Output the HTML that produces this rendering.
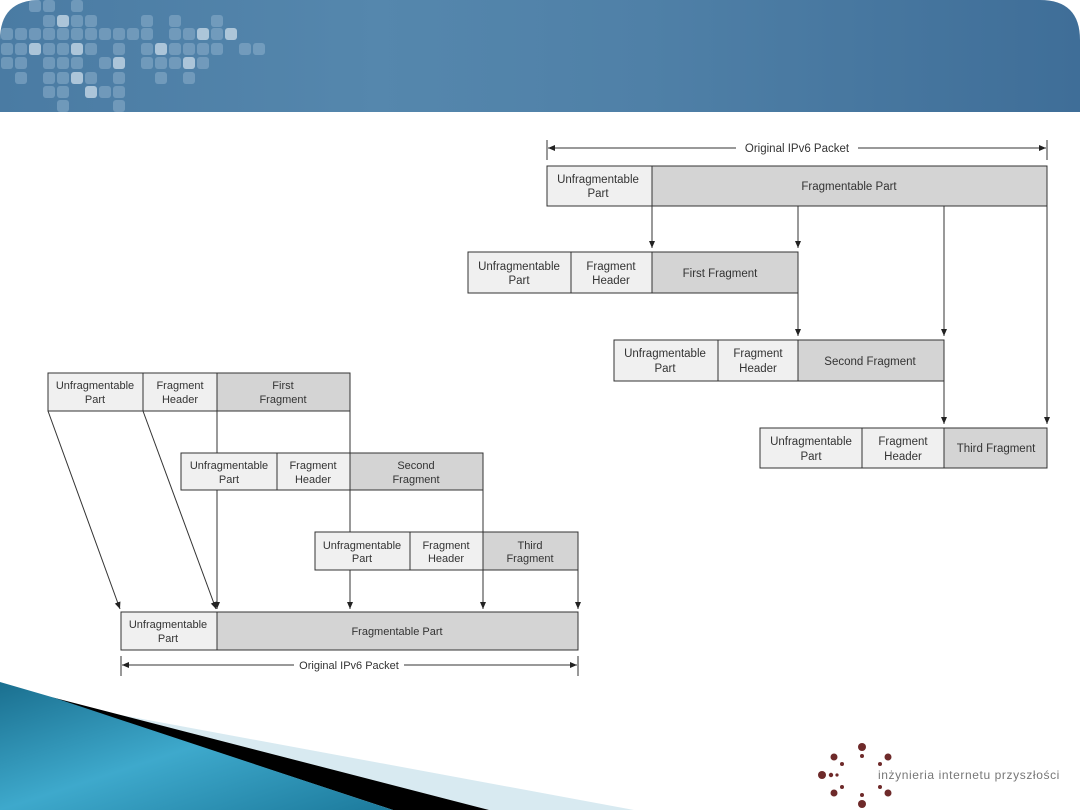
<!DOCTYPE html>
<html><head><meta charset="utf-8"><style>
html,body{margin:0;padding:0;background:#fff;}
body{width:1080px;height:810px;position:relative;overflow:hidden;font-family:"Liberation Sans",sans-serif;}
</style></head><body>
<svg width="1080" height="810" viewBox="0 0 1080 810" xmlns="http://www.w3.org/2000/svg" style="position:absolute;left:0;top:0">
<defs>
<linearGradient id="hg" x1="0" x2="1" y1="0" y2="0">
<stop offset="0" stop-color="#4a7ba3"/><stop offset="0.35" stop-color="#5587ad"/><stop offset="0.6" stop-color="#4f80a7"/><stop offset="1" stop-color="#3f6e98"/>
</linearGradient>
<linearGradient id="tg" x1="0" x2="1" y1="0" y2="1">
<stop offset="0" stop-color="#1a6f8f"/><stop offset="0.5" stop-color="#3ea9cc"/><stop offset="1" stop-color="#1c7a9c"/>
</linearGradient>
<marker id="ar" markerWidth="8" markerHeight="8" refX="7" refY="4" orient="auto" markerUnits="userSpaceOnUse"><path d="M0,1 L7,4 L0,7 z" fill="#222"/></marker>
<marker id="al" markerWidth="8" markerHeight="8" refX="1" refY="4" orient="auto" markerUnits="userSpaceOnUse"><path d="M8,1 L1,4 L8,7 z" fill="#222"/></marker>
</defs>
<path d="M40,0 H1040 Q1080,0 1080,40 V112 H0 V40 Q0,0 40,0 z" fill="url(#hg)"/>
<g fill="#8db0cc" opacity="0.55">
<rect x="29" y="0" width="12" height="12" rx="3"/><rect x="43" y="0" width="12" height="12" rx="3"/><rect x="71" y="0" width="12" height="12" rx="3"/>
<rect x="43" y="15" width="12" height="12" rx="3"/><rect x="71" y="15" width="12" height="12" rx="3"/><rect x="85" y="15" width="12" height="12" rx="3"/><rect x="141" y="15" width="12" height="12" rx="3"/><rect x="169" y="15" width="12" height="12" rx="3"/><rect x="211" y="15" width="12" height="12" rx="3"/>
<rect x="1" y="28" width="12" height="12" rx="3"/><rect x="15" y="28" width="12" height="12" rx="3"/><rect x="29" y="28" width="12" height="12" rx="3"/><rect x="43" y="28" width="12" height="12" rx="3"/><rect x="57" y="28" width="12" height="12" rx="3"/><rect x="71" y="28" width="12" height="12" rx="3"/><rect x="85" y="28" width="12" height="12" rx="3"/><rect x="99" y="28" width="12" height="12" rx="3"/><rect x="113" y="28" width="12" height="12" rx="3"/><rect x="127" y="28" width="12" height="12" rx="3"/><rect x="141" y="28" width="12" height="12" rx="3"/><rect x="169" y="28" width="12" height="12" rx="3"/><rect x="183" y="28" width="12" height="12" rx="3"/><rect x="211" y="28" width="12" height="12" rx="3"/>
<rect x="1" y="43" width="12" height="12" rx="3"/><rect x="15" y="43" width="12" height="12" rx="3"/><rect x="43" y="43" width="12" height="12" rx="3"/><rect x="57" y="43" width="12" height="12" rx="3"/><rect x="85" y="43" width="12" height="12" rx="3"/><rect x="113" y="43" width="12" height="12" rx="3"/><rect x="141" y="43" width="12" height="12" rx="3"/><rect x="169" y="43" width="12" height="12" rx="3"/><rect x="183" y="43" width="12" height="12" rx="3"/><rect x="197" y="43" width="12" height="12" rx="3"/><rect x="211" y="43" width="12" height="12" rx="3"/><rect x="239" y="43" width="12" height="12" rx="3"/><rect x="253" y="43" width="12" height="12" rx="3"/>
<rect x="1" y="57" width="12" height="12" rx="3"/><rect x="15" y="57" width="12" height="12" rx="3"/><rect x="43" y="57" width="12" height="12" rx="3"/><rect x="57" y="57" width="12" height="12" rx="3"/><rect x="71" y="57" width="12" height="12" rx="3"/><rect x="99" y="57" width="12" height="12" rx="3"/><rect x="141" y="57" width="12" height="12" rx="3"/><rect x="155" y="57" width="12" height="12" rx="3"/><rect x="169" y="57" width="12" height="12" rx="3"/><rect x="197" y="57" width="12" height="12" rx="3"/>
<rect x="15" y="72" width="12" height="12" rx="3"/><rect x="43" y="72" width="12" height="12" rx="3"/><rect x="57" y="72" width="12" height="12" rx="3"/><rect x="85" y="72" width="12" height="12" rx="3"/><rect x="113" y="72" width="12" height="12" rx="3"/><rect x="155" y="72" width="12" height="12" rx="3"/><rect x="183" y="72" width="12" height="12" rx="3"/>
<rect x="43" y="86" width="12" height="12" rx="3"/><rect x="57" y="86" width="12" height="12" rx="3"/><rect x="99" y="86" width="12" height="12" rx="3"/><rect x="113" y="86" width="12" height="12" rx="3"/>
<rect x="57" y="100" width="12" height="12" rx="3"/><rect x="113" y="100" width="12" height="12" rx="3"/>
</g>
<g fill="#c4d7e6" opacity="0.8">
<rect x="57" y="15" width="12" height="12" rx="3"/><rect x="197" y="28" width="12" height="12" rx="3"/><rect x="225" y="28" width="12" height="12" rx="3"/>
<rect x="29" y="43" width="12" height="12" rx="3"/><rect x="71" y="43" width="12" height="12" rx="3"/><rect x="155" y="43" width="12" height="12" rx="3"/>
<rect x="113" y="57" width="12" height="12" rx="3"/><rect x="183" y="57" width="12" height="12" rx="3"/>
<rect x="71" y="72" width="12" height="12" rx="3"/><rect x="85" y="86" width="12" height="12" rx="3"/>
</g>

<!-- bottom decoration -->
<polygon points="83,708 634,810 489,810 70,703" fill="#d8eaf1"/>
<polygon points="55,698 489,810 393,810 50,697" fill="#000"/>
<polygon points="0,682 55,698 393,810 0,810" fill="url(#tg)"/>

<!-- logo -->
<g fill="#6e2a2a">
<circle cx="862" cy="747" r="4"/><circle cx="862" cy="804" r="4"/><circle cx="822" cy="775" r="4"/>
<circle cx="834" cy="757" r="3.5"/><circle cx="888" cy="757" r="3.5"/><circle cx="834" cy="793" r="3.5"/><circle cx="888" cy="793" r="3.5"/>
<circle cx="831" cy="775" r="2.2"/><circle cx="837" cy="775" r="1.6"/><circle cx="862" cy="756" r="2"/><circle cx="862" cy="795" r="2"/>
<circle cx="842" cy="764" r="2"/><circle cx="880" cy="764" r="2"/><circle cx="842" cy="787" r="2"/><circle cx="880" cy="787" r="2"/>
</g>
<text x="878" y="779" font-size="12" fill="#777" letter-spacing="0.6" font-family="Liberation Sans, sans-serif">inżynieria internetu przyszłości</text>

<g stroke="#333" stroke-width="1" font-family="Liberation Sans, sans-serif" font-size="11.5" fill="#333" text-anchor="middle">
<line x1="547" y1="140" x2="547" y2="160"/><line x1="1047" y1="140" x2="1047" y2="160"/>
<line x1="548" y1="148" x2="736" y2="148" marker-start="url(#al)"/>
<line x1="858" y1="148" x2="1046" y2="148" marker-end="url(#ar)"/>
<text x="797" y="152" stroke="none">Original IPv6 Packet</text>
<rect x="547" y="166" width="105" height="40" fill="#f0f0f0"/>
<rect x="652" y="166" width="395" height="40" fill="#d4d4d4"/>
<text x="598" y="183" stroke="none">Unfragmentable</text><text x="598" y="197" stroke="none">Part</text>
<text x="849" y="190" stroke="none">Fragmentable Part</text>
<line x1="652" y1="206" x2="652" y2="248" marker-end="url(#ar)"/>
<line x1="798" y1="206" x2="798" y2="248" marker-end="url(#ar)"/>
<line x1="944" y1="206" x2="944" y2="336" marker-end="url(#ar)"/>
<line x1="1047" y1="206" x2="1047" y2="424" marker-end="url(#ar)"/>
<rect x="468" y="252" width="103" height="41" fill="#f0f0f0"/>
<rect x="571" y="252" width="81" height="41" fill="#f0f0f0"/>
<rect x="652" y="252" width="146" height="41" fill="#d4d4d4"/>
<text x="519" y="270" stroke="none">Unfragmentable</text><text x="519" y="284" stroke="none">Part</text>
<text x="611" y="270" stroke="none">Fragment</text><text x="611" y="284" stroke="none">Header</text>
<text x="720" y="277" stroke="none">First Fragment</text>
<line x1="798" y1="293" x2="798" y2="336" marker-end="url(#ar)"/>
<rect x="614" y="340" width="104" height="41" fill="#f0f0f0"/>
<rect x="718" y="340" width="80" height="41" fill="#f0f0f0"/>
<rect x="798" y="340" width="146" height="41" fill="#d4d4d4"/>
<text x="665" y="357" stroke="none">Unfragmentable</text><text x="665" y="372" stroke="none">Part</text>
<text x="758" y="357" stroke="none">Fragment</text><text x="758" y="372" stroke="none">Header</text>
<text x="870" y="365" stroke="none">Second Fragment</text>
<line x1="944" y1="381" x2="944" y2="424" marker-end="url(#ar)"/>
<rect x="760" y="428" width="102" height="40" fill="#f0f0f0"/>
<rect x="862" y="428" width="82" height="40" fill="#f0f0f0"/>
<rect x="944" y="428" width="103" height="40" fill="#d4d4d4"/>
<text x="811" y="445" stroke="none">Unfragmentable</text><text x="811" y="460" stroke="none">Part</text>
<text x="903" y="445" stroke="none">Fragment</text><text x="903" y="460" stroke="none">Header</text>
<text x="996" y="452" stroke="none">Third Fragment</text>

<g font-size="11">
<line x1="48" y1="411" x2="120" y2="609" marker-end="url(#ar)"/>
<line x1="143" y1="411" x2="216" y2="609" marker-end="url(#ar)"/>
<line x1="217" y1="411" x2="217" y2="453"/>
<line x1="217" y1="490" x2="217" y2="609" marker-end="url(#ar)"/>
<line x1="350" y1="411" x2="350" y2="453"/>
<line x1="350" y1="490" x2="350" y2="532"/>
<line x1="350" y1="570" x2="350" y2="609" marker-end="url(#ar)"/>
<line x1="483" y1="490" x2="483" y2="532"/>
<line x1="483" y1="570" x2="483" y2="609" marker-end="url(#ar)"/>
<line x1="578" y1="570" x2="578" y2="609" marker-end="url(#ar)"/>
<rect x="48" y="373" width="95" height="38" fill="#f0f0f0"/>
<rect x="143" y="373" width="74" height="38" fill="#f0f0f0"/>
<rect x="217" y="373" width="133" height="38" fill="#d4d4d4"/>
<text x="95" y="389" stroke="none">Unfragmentable</text><text x="95" y="403" stroke="none">Part</text>
<text x="180" y="389" stroke="none">Fragment</text><text x="180" y="403" stroke="none">Header</text>
<text x="283" y="389" stroke="none">First</text><text x="283" y="403" stroke="none">Fragment</text>
<rect x="181" y="453" width="96" height="37" fill="#f0f0f0"/>
<rect x="277" y="453" width="73" height="37" fill="#f0f0f0"/>
<rect x="350" y="453" width="133" height="37" fill="#d4d4d4"/>
<text x="229" y="469" stroke="none">Unfragmentable</text><text x="229" y="483" stroke="none">Part</text>
<text x="313" y="469" stroke="none">Fragment</text><text x="313" y="483" stroke="none">Header</text>
<text x="416" y="469" stroke="none">Second</text><text x="416" y="483" stroke="none">Fragment</text>
<rect x="315" y="532" width="95" height="38" fill="#f0f0f0"/>
<rect x="410" y="532" width="73" height="38" fill="#f0f0f0"/>
<rect x="483" y="532" width="95" height="38" fill="#d4d4d4"/>
<text x="362" y="549" stroke="none">Unfragmentable</text><text x="362" y="562" stroke="none">Part</text>
<text x="446" y="549" stroke="none">Fragment</text><text x="446" y="562" stroke="none">Header</text>
<text x="530" y="549" stroke="none">Third</text><text x="530" y="562" stroke="none">Fragment</text>
<rect x="121" y="612" width="96" height="38" fill="#f0f0f0"/>
<rect x="217" y="612" width="361" height="38" fill="#d4d4d4"/>
<text x="168" y="628" stroke="none">Unfragmentable</text><text x="168" y="642" stroke="none">Part</text>
<text x="397" y="635" stroke="none">Fragmentable Part</text>
<line x1="121" y1="656" x2="121" y2="676"/><line x1="578" y1="656" x2="578" y2="676"/>
<line x1="122" y1="665" x2="294" y2="665" marker-start="url(#al)"/>
<line x1="404" y1="665" x2="577" y2="665" marker-end="url(#ar)"/>
<text x="349" y="669" stroke="none">Original IPv6 Packet</text>
</g>
</g>
</svg>
</body></html>
